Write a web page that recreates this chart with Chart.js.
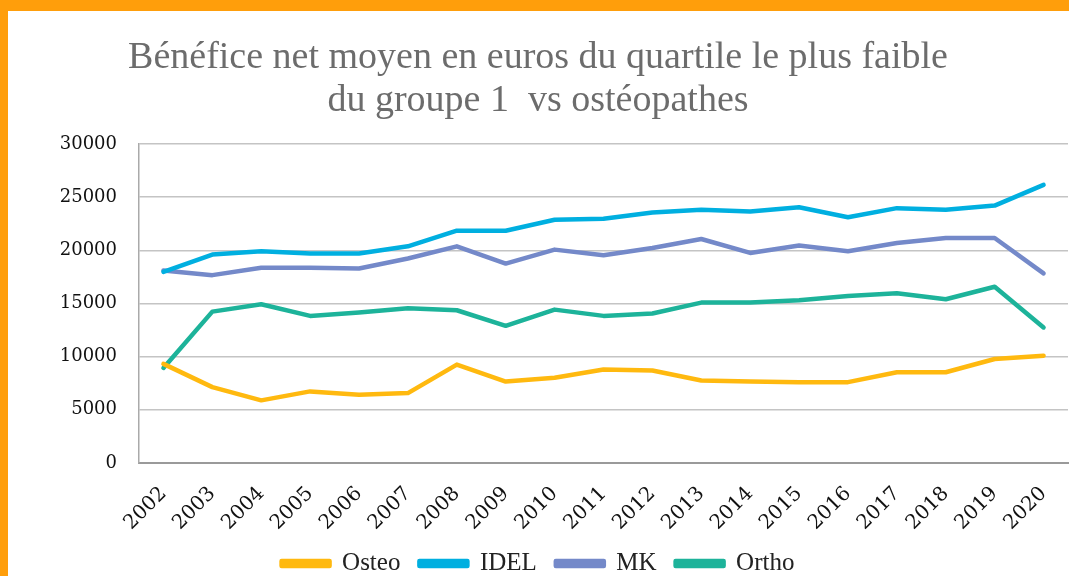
<!DOCTYPE html>
<html>
<head>
<meta charset="utf-8">
<script src="https://cdn.jsdelivr.net/npm/chart.js@4.4.1/dist/chart.umd.min.js"></script>
<style>
    html, body { margin: 0; padding: 0; }
    body { width: 1069px; height: 576px; background: #ff9e0b; overflow: hidden; position: relative; }
    #cadre { position: absolute; left: 8px; top: 11px; width: 1061px; height: 565px; background: #ffffff; overflow: hidden; }
    #graphique { display: block; }
</style>
</head>
<body>
<div id="cadre"><canvas id="graphique" width="1061" height="575"></canvas></div>
<script>
// Données du graphique
const annees = ['2002', '2003', '2004', '2005', '2006', '2007', '2008', '2009', '2010', '2011',
    '2012', '2013', '2014', '2015', '2016', '2017', '2018', '2019', '2020'];
const osteo = [9320, 7130, 5890, 6730, 6420, 6570, 9250, 7660, 8010, 8790,
    8690, 7760, 7660, 7600, 7600, 8530, 8530, 9780, 10090];
const idel = [17970, 19600, 19900, 19690, 19700, 20370, 21840, 21840, 22870, 22960,
    23550, 23800, 23640, 24050, 23110, 23960, 23800, 24200, 26140];
const mk = [18100, 17660, 18350, 18350, 18290, 19220, 20370, 18750, 20060, 19530,
    20220, 21060, 19750, 20440, 19910, 20690, 21150, 21150, 17820];
const ortho = [8940, 14230, 14920, 13830, 14140, 14550, 14360, 12900, 14420, 13830,
    14050, 15080, 15080, 15300, 15700, 15950, 15390, 16570, 12740];
const titre = ['Bénéfice net moyen en euros du quartile le plus faible', 'du groupe 1  vs ostéopathes'];

document.addEventListener('DOMContentLoaded', function () {
    const ctx = document.getElementById('graphique');

    function serie(nom, valeurs, couleur) {
        return {
            label: nom,
            data: valeurs,
            borderColor: couleur,
            backgroundColor: couleur,
            borderWidth: 4.5,
            pointRadius: 0,
            tension: 0,
            borderCapStyle: 'round',
            borderJoinStyle: 'round'
        };
    }

    new Chart(ctx, {
        type: 'line',
        data: {
            labels: annees,
            datasets: [
                serie('Osteo', osteo, '#ffb90f'),
                serie('IDEL', idel, '#00afe0'),
                serie('MK', mk, '#7489c9'),
                serie('Ortho', ortho, '#1db39a')
            ]
        },
        options: {
            responsive: false,
            animation: false,
            layout: { padding: { left: 0, right: 1, top: 0, bottom: 0 } },
            plugins: {
                title: {
                    display: true,
                    text: titre,
                    color: '#6c6c6c',
                    font: { family: 'Liberation Serif', size: 38, weight: 'normal', lineHeight: 1.13 },
                    padding: { top: 26, bottom: 21 }
                },
                legend: {
                    position: 'bottom',
                    labels: {
                        color: '#222',
                        font: { family: 'Liberation Serif', size: 25, lineHeight: 1 },
                        boxWidth: 48,
                        boxHeight: 5,
                        padding: 19
                    }
                },
                tooltip: { enabled: false }
            },
            scales: {
                x: {
                    offset: true,
                    grid: { display: false, drawTicks: false },
                    border: { color: '#9a9a9a', width: 2 },
                    ticks: {
                        color: '#111',
                        font: { family: 'DejaVu Serif', size: 20 },
                        minRotation: 45,
                        maxRotation: 45,
                        padding: 19
                    },
                    afterFit: function (scale) {
                        scale.height = 69;
                        scale.paddingLeft = 0;
                        scale.paddingRight = 0;
                    }
                },
                y: {
                    min: 0,
                    max: 30000,
                    grid: { color: '#c4c4c4', lineWidth: 1.5, drawTicks: false },
                    border: { color: '#aaaaaa', width: 1.5 },
                    ticks: {
                        stepSize: 5000,
                        color: '#111',
                        font: { family: 'DejaVu Serif', size: 18 },
                        padding: 22,
                        callback: function (valeur) {
                            return String(valeur);
                        }
                    },
                    afterFit: function (scale) {
                        scale.width = 131;
                    }
                }
            }
        }
    });
});
</script>
</body>
</html>
